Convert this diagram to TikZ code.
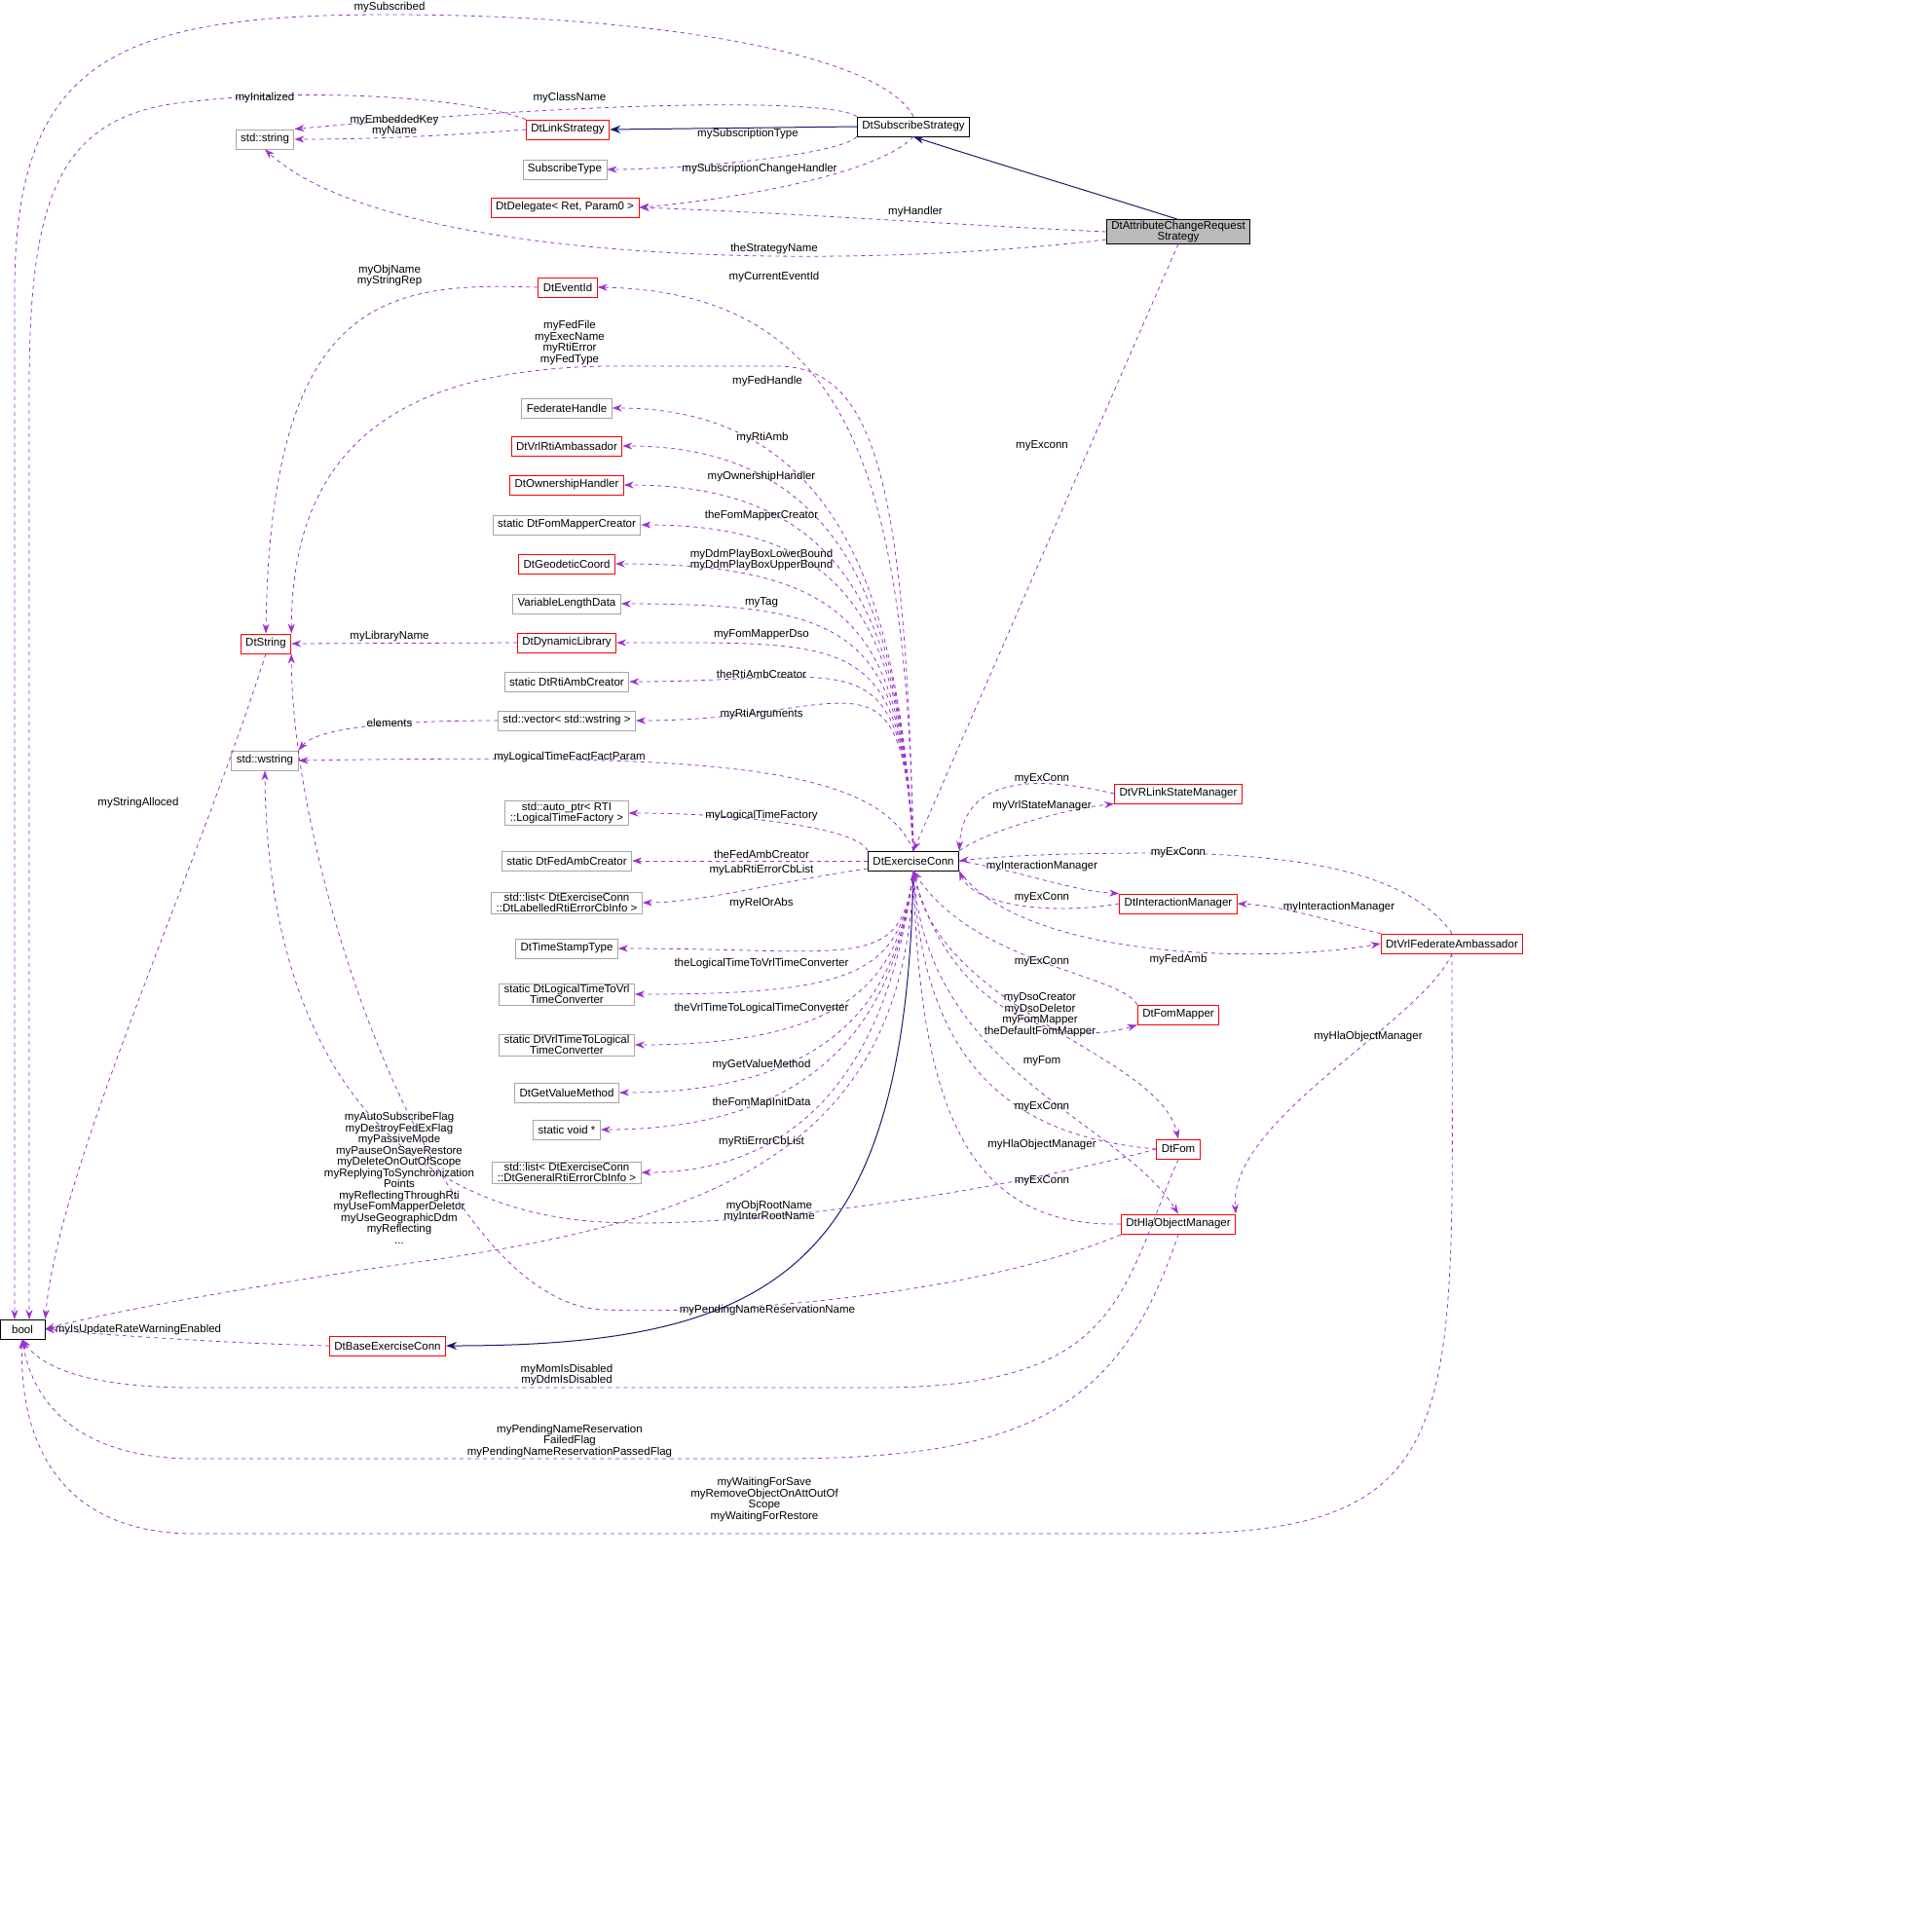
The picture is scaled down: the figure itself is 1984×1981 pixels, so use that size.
\documentclass[tikz,border=0pt]{standalone}
\usepackage{fontspec}
\setmainfont{Liberation Sans}
\usetikzlibrary{arrows.meta}
\definecolor{dep}{HTML}{9A32CD}
\definecolor{inh}{HTML}{191970}
\begin{document}
\begin{tikzpicture}[x=0.5pt,y=-0.5pt,
 every node/.style={font=\fontsize{5.75}{5.75}\selectfont},
 box/.style={draw,align=center,inner xsep=2.5pt,inner ysep=1pt,minimum height=10pt,line width=0.45pt},
 rb/.style={box,draw=red},
 gb/.style={box,draw=black!35},
 kb/.style={box,draw=black},
 lab/.style={align=center,inner sep=0.5pt},
 d/.style={dashed,dash pattern=on 2pt off 2pt,dep,line width=0.4pt,-{Stealth[length=5pt,width=3.5pt]}},
 h/.style={inh,line width=0.5pt,-{Stealth[length=5.5pt,width=4pt]}}]
\useasboundingbox (0,0) rectangle (1984,1981);
\coordinate (cx) at (880,0);
% nodes
\node[kb,minimum width=23pt] (bool) at (23,1365) {bool};
\node[gb] (str) at (272,143) {std::string};
\node[gb] (st) at (580,174) {SubscribeType};
\node[rb] (ls) at (583,133) {DtLinkStrategy};
\node[kb] (sub) at (938,130) {DtSubscribeStrategy};
\node[rb] (del) at (580,213) {DtDelegate< Ret, Param0 >};
\node[kb,fill=black!27,inner ysep=0.5pt] (attr) at (1210,238) {DtAttributeChangeRequest\\Strategy};
\node[rb] (eid) at (583,295) {DtEventId};
\node[rb] (dstr) at (273,661) {DtString};
\node[gb] (fh) at (582,419) {FederateHandle};
\node[rb] (rti) at (582,458) {DtVrlRtiAmbassador};
\node[rb] (own) at (582,498) {DtOwnershipHandler};
\node[gb] (fmc) at (582,539) {static DtFomMapperCreator};
\node[rb] (geo) at (582,579) {DtGeodeticCoord};
\node[gb] (vld) at (582,620) {VariableLengthData};
\node[rb] (dyn) at (582,660) {DtDynamicLibrary};
\node[gb] (rac) at (582,700) {static DtRtiAmbCreator};
\node[gb] (vec) at (582,740) {std::vector< std::wstring >};
\node[gb] (wstr) at (272,781) {std::wstring};
\node[gb,inner ysep=0.5pt] (ap) at (582,835) {std::auto\_ptr< RTI\\::LogicalTimeFactory >};
\node[gb] (fac) at (582,884) {static DtFedAmbCreator};
\node[gb,inner ysep=0.5pt] (ll) at (582,927) {std::list< DtExerciseConn\\::DtLabelledRtiErrorCbInfo >};
\node[gb] (ts) at (582,974) {DtTimeStampType};
\node[gb,inner ysep=0.5pt] (l2v) at (582,1021) {static DtLogicalTimeToVrl\\TimeConverter};
\node[gb,inner ysep=0.5pt] (v2l) at (582,1073) {static DtVrlTimeToLogical\\TimeConverter};
\node[gb] (gvm) at (582,1122) {DtGetValueMethod};
\node[gb] (sv) at (582,1160) {static void *};
\node[gb,inner ysep=0.5pt] (lg) at (582,1204) {std::list< DtExerciseConn\\::DtGeneralRtiErrorCbInfo >};
\node[rb] (base) at (398,1382) {DtBaseExerciseConn};
\node[kb] (ec) at (938,884) {DtExerciseConn};
\node[rb] (vsm) at (1210,815) {DtVRLinkStateManager};
\node[rb] (im) at (1210,928) {DtInteractionManager};
\node[rb] (fa) at (1491,969) {DtVrlFederateAmbassador};
\node[rb] (fm) at (1210,1042) {DtFomMapper};
\node[rb] (fom) at (1210,1180) {DtFom};
\node[rb] (hla) at (1210,1257) {DtHlaObjectManager};
% inheritance
\draw[h] (sub.west) -- (ls.east);
\draw[h] (attr.north) .. controls (1130,200) and (1030,170) .. (sub.south);
\draw[h] (ec.south) .. controls (930,1300) and (800,1382) .. (base.east);
% top area
\draw[d] (sub.north) .. controls (900,50) and (650,15) .. (400,15) .. controls (120,15) and (15,60) .. (15,300) -- (15,1355);
\draw[d] (ls.north west) .. controls (480,100) and (320,90) .. (200,104) .. controls (60,115) and (30,200) .. (30,400) -- (30,1355);
\draw[d] (sub.north west) .. controls (850,100) and (600,105) .. (str.north east);
\draw[d] (ls.west) .. controls (450,140) and (380,143) .. (str.east);
\draw[d] (sub.south west) .. controls (860,160) and (700,174) .. (st.east);
\draw[d] (sub.south) .. controls (900,180) and (750,205) .. (del.east);
\draw[d] (attr.west) .. controls (1000,232) and (800,218) .. (del.east);
\draw[d] (attr.west |- 0,246) .. controls (850,280) and (400,270) .. (str.south);
\draw[d] (attr.south) -- (ec.north);
\node[lab] at (400,8) {mySubscribed};
\node[lab] at (272,101) {myInitalized};
\node[lab] at (585,101) {myClassName};
\node[lab] at (405,129) {myEmbeddedKey\\myName};
\node[lab] at (768,138) {mySubscriptionType};
\node[lab] at (780,174) {mySubscriptionChangeHandler};
\node[lab] at (940,218) {myHandler};
\node[lab] at (795,256) {theStrategyName};
\node[lab] at (1070,458) {myExconn};
% DtString group
\draw[d] (eid.west) .. controls (400,290) and (278,300) .. (dstr.north);
\node[lab] at (400,283) {myObjName\\myStringRep};
\draw[d] (ec.north) .. controls (930,500) and (900,378) .. (800,376) -- (620,376) .. controls (420,380) and (300,450) .. (dstr.north east);
\draw[d] (dyn.west) -- (dstr.east);
\node[lab] at (400,654) {myLibraryName};
\draw[d] (vec.west) .. controls (450,740) and (330,742) .. (wstr.north east);
\node[lab] at (400,742) {elements};
\draw[d] (ec.north) .. controls (900,780) and (700,775) .. (wstr.east);
\draw[d] (dstr.south) .. controls (200,900) and (60,1200) .. (bool.north east);
\node[lab] at (142,825) {myStringAlloced};
% ec fan left
\draw[d] (ec.north) .. controls (930,500) and (880,300) .. (eid.east);
\foreach \t in {fh,rti,own,fmc,geo,vld,dyn,rac,vec}{
 \draw[d] (ec.north) .. controls (925,650) and (\t.east -| cx) .. (\t.east);
}
\draw[d] (ec.north west) .. controls (880,850) and (760,835) .. (ap.east);
\draw[d] (ec.west) -- (fac.east);
\draw[d] (ec.west |- 0,892) .. controls (800,905) and (720,927) .. (ll.east);
\foreach \t in {ts,l2v,v2l,gvm,sv,lg}{
 \draw[d] (ec.south) .. controls (925,1000) and (\t.east -| cx) .. (\t.east);
}
\draw[d] (ec.south) .. controls (930,1200) and (700,1260) .. (400,1300) .. controls (200,1330) and (80,1355) .. (bool.east);
\node[lab] at (788,392) {myFedHandle};
\node[lab] at (585,352) {myFedFile\\myExecName\\myRtiError\\myFedType};
\node[lab] at (795,285) {myCurrentEventId};
\node[lab] at (783,450) {myRtiAmb};
\node[lab] at (782,490) {myOwnershipHandler};
\node[lab] at (782,530) {theFomMapperCreator};
\node[lab] at (782,575) {myDdmPlayBoxLowerBound\\myDdmPlayBoxUpperBound};
\node[lab] at (782,619) {myTag};
\node[lab] at (782,652) {myFomMapperDso};
\node[lab] at (782,692) {theRtiAmbCreator};
\node[lab] at (782,734) {myRtiArguments};
\node[lab] at (585,778) {myLogicalTimeFactFactParam};
\node[lab] at (782,838) {myLogicalTimeFactory};
\node[lab] at (782,877) {theFedAmbCreator};
\node[lab] at (782,894) {myLabRtiErrorCbList};
\node[lab] at (782,928) {myRelOrAbs};
\node[lab] at (782,990) {theLogicalTimeToVrlTimeConverter};
\node[lab] at (782,1036) {theVrlTimeToLogicalTimeConverter};
\node[lab] at (782,1094) {myGetValueMethod};
\node[lab] at (782,1133) {theFomMapInitData};
\node[lab] at (782,1173) {myRtiErrorCbList};
\node[lab] at (410,1210) {myAutoSubscribeFlag\\myDestroyFedExFlag\\myPassiveMode\\myPauseOnSaveRestore\\myDeleteOnOutOfScope\\myReplyingToSynchronization\\Points\\myReflectingThroughRti\\myUseFomMapperDeletor\\myUseGeographicDdm\\myReflecting\\...};
% lower long edges
\draw[d] (fom.west) .. controls (1000,1230) and (750,1262) .. (620,1255) .. controls (420,1245) and (275,1100) .. (wstr.south);
\node[lab] at (790,1244) {myObjRootName\\myInterRootName};
\draw[d] (hla.west |- 0,1268) .. controls (1000,1330) and (750,1350) .. (620,1345) .. controls (450,1340) and (300,900) .. (dstr.south east);
\node[lab] at (788,1346) {myPendingNameReservationName};
\draw[d] (base.west) .. controls (250,1380) and (120,1372) .. (bool.east);
\node[lab] at (142,1366) {myIsUpdateRateWarningEnabled};
\draw[d] (fom.south) .. controls (1150,1330) and (1150,1425) .. (900,1425) -- (200,1425) .. controls (80,1425) and (40,1400) .. (bool.south);
\node[lab] at (582,1412) {myMomIsDisabled\\myDdmIsDisabled};
\draw[d] (hla.south) .. controls (1150,1450) and (1050,1498) .. (800,1498) -- (200,1498) .. controls (60,1498) and (30,1420) .. (bool.south);
\node[lab] at (585,1480) {myPendingNameReservation\\FailedFlag\\myPendingNameReservationPassedFlag};
\draw[d] (fa.south) .. controls (1490,1450) and (1520,1575) .. (1200,1575) -- (200,1575) .. controls (40,1575) and (20,1450) .. (bool.south);
\node[lab] at (785,1540) {myWaitingForSave\\myRemoveObjectOnAttOutOf\\Scope\\myWaitingForRestore};
% right side
\draw[d] (vsm.west) .. controls (1080,800) and (990,790) .. (ec.north east);
\draw[d] (ec.north east) .. controls (1020,850) and (1100,830) .. (vsm.south west);
\draw[d] (fa.north) .. controls (1450,900) and (1350,878) .. (1200,876) .. controls (1100,876) and (1040,878) .. (ec.east);
\draw[d] (ec.east) .. controls (1050,895) and (1100,915) .. (im.north west);
\draw[d] (im.west) .. controls (1080,940) and (1000,930) .. (ec.south east);
\draw[d] (fa.north west) .. controls (1380,950) and (1320,930) .. (im.east);
\draw[d] (ec.south east) .. controls (1050,985) and (1300,990) .. (fa.west);
\draw[d] (fm.north west) .. controls (1150,1000) and (1000,990) .. (ec.south);
\draw[d] (ec.south) .. controls (970,1030) and (1080,1080) .. (fm.south west);
\draw[d] (ec.south) .. controls (960,1040) and (1190,1080) .. (fom.north);
\draw[d] (fom.west) .. controls (1080,1170) and (950,1130) .. (ec.south);
\draw[d] (ec.south) .. controls (950,1100) and (1150,1150) .. (hla.north);
\draw[d] (hla.west) .. controls (1000,1260) and (945,1150) .. (ec.south);
\draw[d] (fa.south) .. controls (1460,1050) and (1260,1150) .. (hla.north east);
\node[lab] at (1070,800) {myExConn};
\node[lab] at (1070,828) {myVrlStateManager};
\node[lab] at (1210,876) {myExConn};
\node[lab] at (1070,890) {myInteractionManager};
\node[lab] at (1070,922) {myExConn};
\node[lab] at (1375,932) {myInteractionManager};
\node[lab] at (1210,986) {myFedAmb};
\node[lab] at (1070,988) {myExConn};
\node[lab] at (1068,1042) {myDsoCreator\\myDsoDeletor\\myFomMapper\\theDefaultFomMapper};
\node[lab] at (1070,1090) {myFom};
\node[lab] at (1070,1137) {myExConn};
\node[lab] at (1070,1176) {myHlaObjectManager};
\node[lab] at (1070,1213) {myExConn};
\node[lab] at (1405,1065) {myHlaObjectManager};
\end{tikzpicture}
\end{document}
